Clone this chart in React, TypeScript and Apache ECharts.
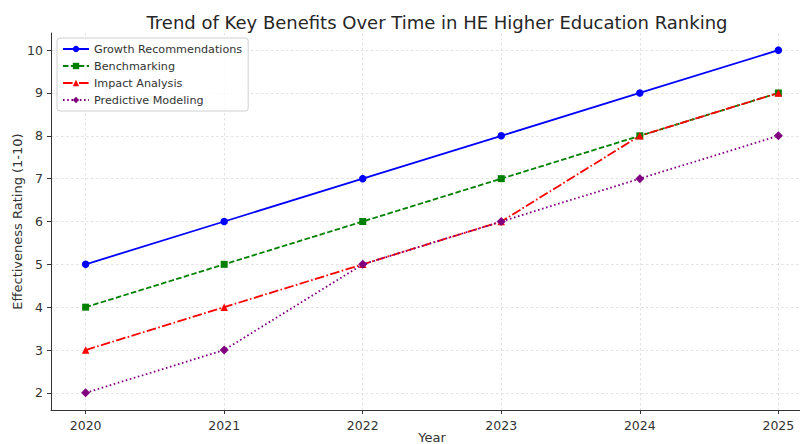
import React, { useEffect, useRef } from "react";
import * as echarts from "echarts";

const years = [2020, 2021, 2022, 2023, 2024, 2025];
const growth = [5, 6, 7, 8, 9, 10];
const benchmarking = [4, 5, 6, 7, 8, 9];
const impact = [3, 4, 5, 6, 8, 9];
const predictive = [2, 3, 5, 6, 7, 8];
const yTicks = [2, 3, 4, 5, 6, 7, 8, 9, 10];

const FONT = "DejaVu Sans";

export default function App() {
  const ref = useRef<HTMLDivElement>(null);
  useEffect(() => {
    const chart = echarts.init(ref.current!, null, { renderer: "svg" });
    const pair = (vals: number[]) => years.map((y, i) => [y, vals[i]]);
    const mk = (name: string, vals: number[], color: string, symbol: string, size: number, type: any) => ({
      name,
      type: "line",
      data: pair(vals),
      symbol,
      symbolSize: size,
      itemStyle: { color },
      lineStyle: { color, width: 1.8, type },
      emphasis: { disabled: true },
    });
    chart.setOption({
      animation: false,
      textStyle: { fontFamily: FONT },
      title: {
        text: "Trend of Key Benefits Over Time in HE Higher Education Ranking",
        left: 432,
        textAlign: "center",
        top: 8,
        textStyle: { fontFamily: FONT, fontSize: 18, fontWeight: "normal", color: "#262626" },
      },
      legend: {
        orient: "vertical",
        left: 57,
        top: 38,
        padding: [5, 6, 5, 5],
        itemGap: 5,
        itemWidth: 26,
        itemHeight: 8,
        borderColor: "#d0d0d0",
        borderWidth: 1,
        borderRadius: 3,
        backgroundColor: "rgba(255,255,255,0.8)",
        textStyle: { fontFamily: FONT, fontSize: 11.2, color: "#333", lineHeight: 12 },
      },
      grid: { left: 51, top: 33, width: 762, height: 377, containLabel: false, outerBoundsMode: "none" },
      xAxis: {
        type: "value",
        min: 2019.75,
        max: 2025.25,
        name: "Year",
        nameLocation: "middle",
        nameGap: 21,
        nameMoveOverlap: false,
        nameTextStyle: { fontFamily: FONT, fontSize: 13, color: "#333" },
        axisLine: { show: true, lineStyle: { color: "#333", width: 1 } },
        axisTick: { show: true, length: 4, customValues: years, lineStyle: { color: "#333" } },
        axisLabel: {
          customValues: years,
          margin: 9,
          fontFamily: FONT,
          fontSize: 12.5,
          color: "#333",
          formatter: (v: number) => String(v),
        },
        splitLine: { show: true, customValues: years, lineStyle: { color: "#dcdcdc", type: [2.5, 2.5], width: 0.8 } },
      },
      yAxis: {
        type: "value",
        min: 1.6,
        max: 10.4,
        name: "Effectiveness Rating (1-10)",
        nameLocation: "middle",
        nameGap: 27,
        nameMoveOverlap: false,
        nameTextStyle: { fontFamily: FONT, fontSize: 13, color: "#333" },
        axisLine: { show: true, lineStyle: { color: "#333", width: 1 } },
        axisTick: { show: true, length: 4, customValues: yTicks, lineStyle: { color: "#333" } },
        axisLabel: {
          customValues: yTicks,
          margin: 8,
          fontFamily: FONT,
          fontSize: 12.5,
          color: "#333",
          formatter: (v: number) => String(v),
        },
        splitLine: { show: true, customValues: yTicks, lineStyle: { color: "#dcdcdc", type: [2.5, 2.5], width: 0.8 } },
      },
      series: [
        mk("Growth Recommendations", growth, "#0000ff", "circle", 7.5, "solid"),
        mk("Benchmarking", benchmarking, "#008000", "rect", 7, [5.5, 2.4]),
        mk("Impact Analysis", impact, "#ff0000", "triangle", 7.5, [9.6, 2.4, 1.6, 2.4]),
        mk("Predictive Modeling", predictive, "#800080", "path://M0,-1L0.62,0L0,1L-0.62,0Z", 9, [1.6, 2.6]),
      ],
    });
    return () => chart.dispose();
  }, []);
  return <div ref={ref} style={{ width: 800, height: 444, position: "absolute", left: 0, top: 0 }} />;
}
